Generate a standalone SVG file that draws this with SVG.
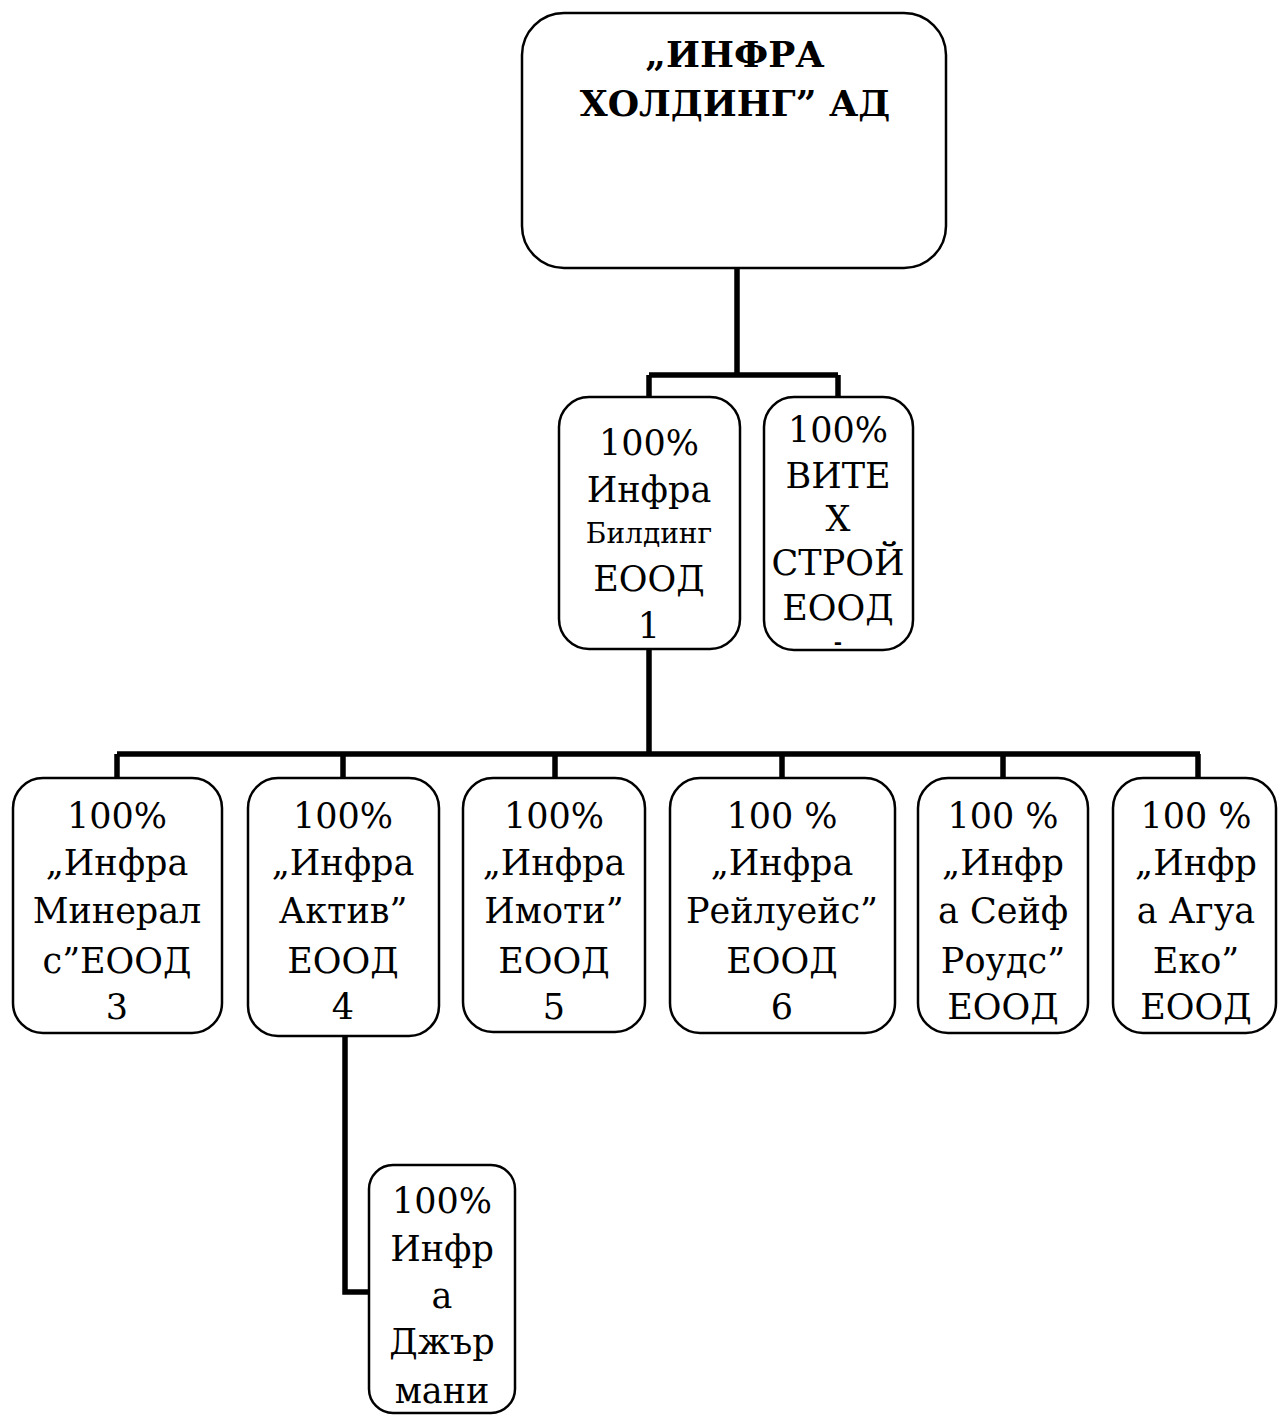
<svg xmlns="http://www.w3.org/2000/svg" width="1278" height="1415" viewBox="0 0 1278 1415">
<style>
.box{fill:#fff;stroke:#000;stroke-width:2.5}
.con{fill:none;stroke:#000;stroke-width:5.5;stroke-linejoin:miter}
text{font-family:"DejaVu Serif","Liberation Serif",serif;font-size:35px;text-anchor:middle;fill:#000}
.b{font-weight:bold;font-size:36px}
.s{font-size:28px}
.d{font-size:20px;font-weight:bold}
</style>
<rect width="1278" height="1415" fill="#fff"/>
<g id="connectors">
<path class="con" d="M737 268 V375 M649 375 H838 M649 375 V397 M838 375 V397"/>
<path class="con" d="M649 650 V754 M117 754 H1200 M117 754 V778 M343 754 V778 M555 754 V778 M782 754 V778 M1003 754 V778 M1198 754 V778"/>
<path class="con" d="M345 1037 V1292 H369"/>
</g>
<g id="n0"><rect class="box" x="522" y="13" width="424" height="255" rx="42"/>
<text class="b" x="735" y="67">„ИНФРА</text><text class="b" x="735" y="116">ХОЛДИНГ” АД</text></g>
<g id="n1"><rect class="box" x="559" y="397" width="181" height="252" rx="30"/>
<text x="649" y="455">100%</text><text x="649" y="502">Инфра</text><text class="s" x="649" y="543">Билдинг</text><text x="649" y="591">ЕООД</text><text x="649" y="638">1</text></g>
<g id="n2"><rect class="box" x="764" y="397" width="149" height="253" rx="30"/>
<text x="838" y="442">100%</text><text x="838" y="488">ВИТЕ</text><text x="838" y="531">Х</text><text x="838" y="575">СТРОЙ</text><text x="838" y="620">ЕООД</text><text class="d" x="838" y="649">-</text></g>
<g id="n3"><rect class="box" x="13" y="778" width="209" height="255" rx="30"/>
<text x="117" y="828">100%</text><text x="117" y="875">„Инфра</text><text x="117" y="923">Минерал</text><text x="117" y="973">с”ЕООД</text><text x="117" y="1019">3</text></g>
<g id="n4"><rect class="box" x="248" y="778" width="191" height="258" rx="30"/>
<text x="343" y="828">100%</text><text x="343" y="875">„Инфра</text><text x="343" y="923">Актив”</text><text x="343" y="973">ЕООД</text><text x="343" y="1019">4</text></g>
<g id="n5"><rect class="box" x="463" y="778" width="182" height="254" rx="30"/>
<text x="554" y="828">100%</text><text x="554" y="875">„Инфра</text><text x="554" y="923">Имоти”</text><text x="554" y="973">ЕООД</text><text x="554" y="1019">5</text></g>
<g id="n6"><rect class="box" x="670" y="778" width="225" height="255" rx="30"/>
<text x="782" y="828">100 %</text><text x="782" y="875">„Инфра</text><text x="782" y="923">Рейлуейс”</text><text x="782" y="973">ЕООД</text><text x="782" y="1019">6</text></g>
<g id="n7"><rect class="box" x="918" y="778" width="170" height="255" rx="30"/>
<text x="1003" y="828">100 %</text><text x="1003" y="875">„Инфр</text><text x="1003" y="923">а Сейф</text><text x="1003" y="973">Роудс”</text><text x="1003" y="1019">ЕООД</text></g>
<g id="n8"><rect class="box" x="1113" y="778" width="163" height="255" rx="30"/>
<text x="1196" y="828">100 %</text><text x="1196" y="875">„Инфр</text><text x="1196" y="923">а Агуа</text><text x="1196" y="973">Еко”</text><text x="1196" y="1019">ЕООД</text></g>
<g id="n9"><rect class="box" x="369" y="1165" width="146" height="248" rx="24"/>
<text x="442" y="1213">100%</text><text x="442" y="1261">Инфр</text><text x="442" y="1308">а</text><text x="442" y="1354">Джър</text><text x="442" y="1403">мани</text></g>
</svg>
